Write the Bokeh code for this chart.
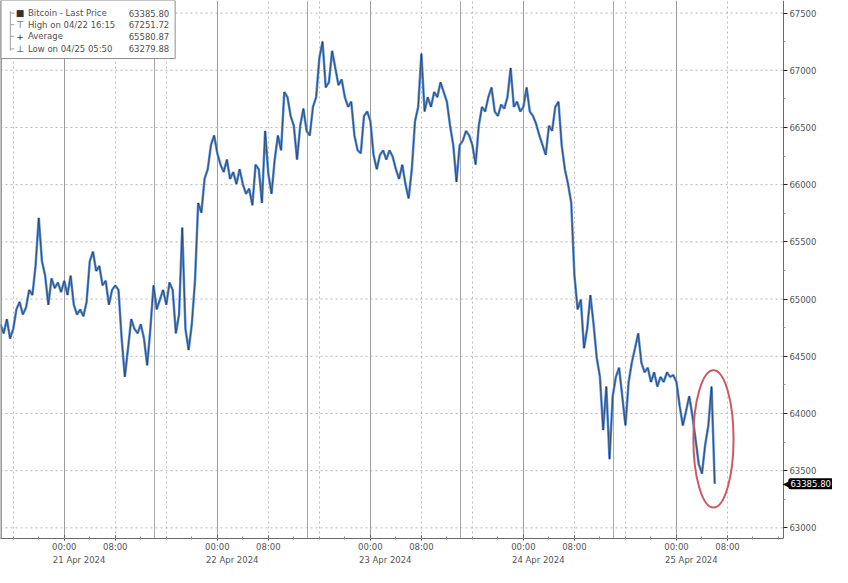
import pandas as pd
from bokeh.plotting import figure
from bokeh.models import (Range1d, FixedTicker, DatetimeTickFormatter, DatetimeAxis,
                          Grid, Label, Span, NumeralTickFormatter, ColumnDataSource)
from bokeh.embed import file_html
from bokeh.resources import INLINE
from bokeh.core.properties import value

# ---------------- data ----------------
SERIES_START = "2024-04-20 14:00"
SERIES_STEP = "30min"
price = [
    64780, 64700, 64825, 64655, 64740, 64910, 64975, 64865, 64925, 65080,
    65035, 65290, 65710, 65330, 65205, 64950, 65180, 65095, 65145, 65060,
    65160, 65035, 65205, 64950, 64865, 64910, 64850, 64975, 65330, 65415,
    65245, 65290, 65120, 65160, 64950, 65080, 65120, 65080, 64655, 64320,
    64570, 64825, 64740, 64700, 64780, 64655, 64420, 64740, 65120, 64910,
    64995, 65080, 64950, 65145, 65080, 64700, 64865, 65625, 64740, 64555,
    64780, 65160, 65840, 65755, 66050, 66135, 66345, 66430, 66275, 66175,
    66110, 66220, 66050, 66110, 66005, 66135, 66005, 65920, 65965, 65820,
    66175, 66135, 65840, 66470, 66095, 65920, 66220, 66430, 66300, 66810,
    66765, 66600, 66515, 66220, 66515, 66665, 66470, 66430, 66680, 66765,
    67105, 67251.72, 66850, 66895, 67170, 67020, 66870, 66920, 66765, 66680,
    66725, 66430, 66300, 66275, 66600, 66640, 66555, 66260, 66135, 66260,
    66300, 66220, 66300, 66245, 66135, 66050, 66175, 66005, 65880, 66135,
    66555, 66680, 67145, 66640, 66765, 66680, 66810, 66765, 66895, 66810,
    66725, 66515, 66345, 66025, 66345, 66385, 66470, 66430, 66345, 66175,
    66515, 66680, 66640, 66765, 66850, 66640, 66600, 66700, 66665, 66765,
    67020, 66680, 66725, 66640, 66680, 66850, 66640, 66600, 66530, 66430,
    66345, 66260, 66515, 66470, 66680, 66725, 66345, 66135, 66005, 65840,
    65205, 64910, 64995, 64570, 64740, 65035, 64780, 64485, 64320, 63855,
    64235, 63600, 64150, 64320, 64400, 64150, 63895, 64275, 64445, 64570,
    64700, 64445, 64360, 64400, 64275, 64360, 64235, 64320, 64275, 64360,
    64320, 64335, 64275, 64065, 63895, 64020, 64150, 63980, 63770, 63555,
    63475, 63725, 63895, 64235, 63385.80,
]
y_ticks = [63000, 63500, 64000, 64500, 65000, 65500, 66000, 66500, 67000, 67500]
day_dates = ["2024-04-20", "2024-04-21", "2024-04-22", "2024-04-23", "2024-04-24", "2024-04-25"]
label_dates = ["2024-04-21", "2024-04-22", "2024-04-23", "2024-04-24", "2024-04-25"]
legend_labels = ["Bitcoin - Last Price", "High on 04/22 16:15", "Average", "Low on 04/25 05:50"]
legend_values = ["63385.80", "67251.72", "65580.87", "63279.88"]
legend_icons = ["\u25a0", "\u22a4", "+", "\u22a5"]
last_price = 63385.80
last_price_text = "63385.80"

# ---------------- layout constants ----------------
W, H = 832, 567
REF_W, REF_FRAME_H = 848, 556   # reference pixels spanned by the frame
FONT = "DejaVu Sans"


def ms(ts):
    return pd.Timestamp(ts).value / 1e6


HOUR = 3600e3
X0, X1 = ms("2024-04-20 14:00"), ms("2024-04-26 00:28")
X_AX = ms("2024-04-25 16:46")          # where the price axis sits
Y0, Y1 = 62907, 67610


def lx(px):  # reference px -> data x
    return X0 + px * (X1 - X0) / REF_W


def ly(py):  # reference px -> data y
    return Y1 - py * (Y1 - Y0) / REF_FRAME_H


times = pd.date_range(SERIES_START, periods=len(price), freq=SERIES_STEP)
src = ColumnDataSource(dict(t=times, price=price))

p = figure(width=W, height=H, output_backend="svg", toolbar_location=None,
           x_axis_type="datetime", y_axis_location="right",
           x_range=Range1d(X0, X1), y_range=Range1d(Y0, Y1),
           min_border_left=0, min_border_top=0, min_border_right=0, min_border_bottom=0,
           background_fill_color="white", border_fill_color="white")
p.outline_line_color = None

# ---------------- grids ----------------
days = [pd.Timestamp(d) for d in day_dates]
midnights = [ms(d) for d in days]
dotted_v = [ms(d + pd.Timedelta(hours=h)) for d in days for h in (8, 16)][:-1]
separators = [ms(d + pd.Timedelta(hours=14, minutes=5)) for d in days][:-1]

p.xgrid.visible = False
p.ygrid.visible = False
p.add_layout(Grid(dimension=0, ticker=FixedTicker(ticks=dotted_v),
                  grid_line_color="#bdbdbd", grid_line_dash="2 3", grid_line_width=1))
p.add_layout(Grid(dimension=0, ticker=FixedTicker(ticks=midnights),
                  grid_line_color="#9c9c9c", grid_line_width=1))
p.add_layout(Grid(dimension=0, ticker=FixedTicker(ticks=separators),
                  grid_line_color="#a8a8a8", grid_line_width=1))
# horizontal dotted grid lines stop at the price axis
p.segment(x0=[X0] * len(y_ticks), y0=y_ticks, x1=[X_AX] * len(y_ticks), y1=y_ticks,
          line_color="#b5b5b5", line_dash="2 3", line_width=1)
p.add_layout(Span(location=X0, dimension="height", line_color="#8c8c8c", line_width=2))

# ---------------- axes ----------------
hm = "%H:%M"
time_fmt = DatetimeTickFormatter(microseconds=hm, milliseconds=hm, seconds=hm, minsec=hm,
                                 minutes=hm, hourmin=hm, hours=hm, days=hm, months=hm, years=hm)
time_ticks = [ms(d + pd.Timedelta(hours=h)) for d in days for h in (0, 8)]
minor_ticks = [ms(days[0] + pd.Timedelta(hours=4 * i)) for i in range(35)]
xa = p.xaxis[0]
xa.ticker = FixedTicker(ticks=time_ticks, minor_ticks=minor_ticks)
xa.formatter = time_fmt
xa.bounds = (X0, X_AX)
xa.axis_line_color = "#6a6a6a"
xa.major_tick_line_color = "#222222"
xa.major_tick_in = 3
xa.major_tick_out = 2
xa.minor_tick_line_color = "#8a8a8a"
xa.minor_tick_in = 2
xa.minor_tick_out = 1
xa.major_label_standoff = 1
xa.major_label_text_font = FONT
xa.major_label_text_font_size = "8.5px"
xa.major_label_text_color = "#555555"

dd = "%d %b %Y"
date_fmt = DatetimeTickFormatter(microseconds=dd, milliseconds=dd, seconds=dd, minsec=dd,
                                 minutes=dd, hourmin=dd, hours=dd, days=dd, months=dd, years=dd)
date_axis = DatetimeAxis(ticker=FixedTicker(ticks=[ms(pd.Timestamp(d) + pd.Timedelta(hours=2, minutes=20))
                                                   for d in label_dates]),
                         formatter=date_fmt)
date_axis.axis_line_color = None
date_axis.major_tick_line_color = None
date_axis.minor_tick_line_color = None
date_axis.major_tick_in = 0
date_axis.major_tick_out = 0
date_axis.major_label_standoff = 0
date_axis.major_label_text_font = FONT
date_axis.major_label_text_font_size = "8.5px"
date_axis.major_label_text_color = "#555555"
p.add_layout(date_axis, "below")

ya = p.yaxis[0]
ya.fixed_location = X_AX
ya.ticker = FixedTicker(ticks=y_ticks, minor_ticks=[t + 250 for t in y_ticks])
ya.formatter = NumeralTickFormatter(format="0")
ya.axis_line_color = "#6a6a6a"
ya.major_tick_line_color = "#222222"
ya.major_tick_in = 0
ya.major_tick_out = 4
ya.minor_tick_line_color = "#9a9a9a"
ya.minor_tick_in = 0
ya.minor_tick_out = 2
ya.major_label_standoff = 2
ya.major_label_text_font = FONT
ya.major_label_text_font_size = "8.5px"
ya.major_label_text_color = "#555555"

# ---------------- price line ----------------
p.line("t", "price", source=src, line_color="#5a8fd6", line_width=2.5)
p.line("t", "price", source=src, line_color="#16233a", line_width=0.6)

# red highlight ellipse
p.ellipse(x=ms("2024-04-25 05:48"), y=63777, width=6.3 * HOUR, height=1200,
          fill_color=None, line_color="#cc5a62", line_width=2)

# ---------------- legend box ----------------
p.quad(left=lx(0), right=lx(178), top=ly(0), bottom=ly(60),
       fill_color="white", line_color="#8c8c8c", line_width=1)
rows_y = [ly(13), ly(25), ly(37), ly(50)]
p.segment(x0=lx(10), y0=ly(11), x1=lx(10), y1=ly(52), line_color="#a0a0a0", line_width=1)
p.segment(x0=[lx(10)] * 4, y0=rows_y, x1=[lx(14)] * 4, y1=rows_y, line_color="#a0a0a0", line_width=1)
leg = ColumnDataSource(dict(y=rows_y, lab=legend_labels, val=legend_values, icon=legend_icons,
                            xl=[lx(28)] * 4, xr=[lx(172)] * 4, xi=[lx(20)] * 4))
p.text(x="xl", y="y", text="lab", source=leg, text_font=value(FONT), text_font_size="8.5px",
       text_color="#505050", text_baseline="middle", text_align="left")
p.text(x="xr", y="y", text="val", source=leg, text_font=value(FONT), text_font_size="8.5px",
       text_color="#505050", text_baseline="middle", text_align="right")
p.text(x="xi", y="y", text="icon", source=leg, text_font=value(FONT), text_font_size="9px",
       text_color="#333333", text_baseline="middle", text_align="center")

# last-price tag beside the price axis
p.add_layout(Label(x=X_AX, y=last_price, x_offset=7, text="\u25c0", text_font=FONT,
                   text_font_size="10px", text_color="black", text_baseline="middle",
                   text_align="right"))
p.add_layout(Label(x=X_AX, y=last_price, x_offset=5, text=last_price_text, text_font=FONT,
                   text_font_size="8.5px", text_color="#ffffff", text_baseline="middle",
                   background_fill_color="black", padding=2, border_radius=2))

open("out.html", "w").write(file_html(p, INLINE))
